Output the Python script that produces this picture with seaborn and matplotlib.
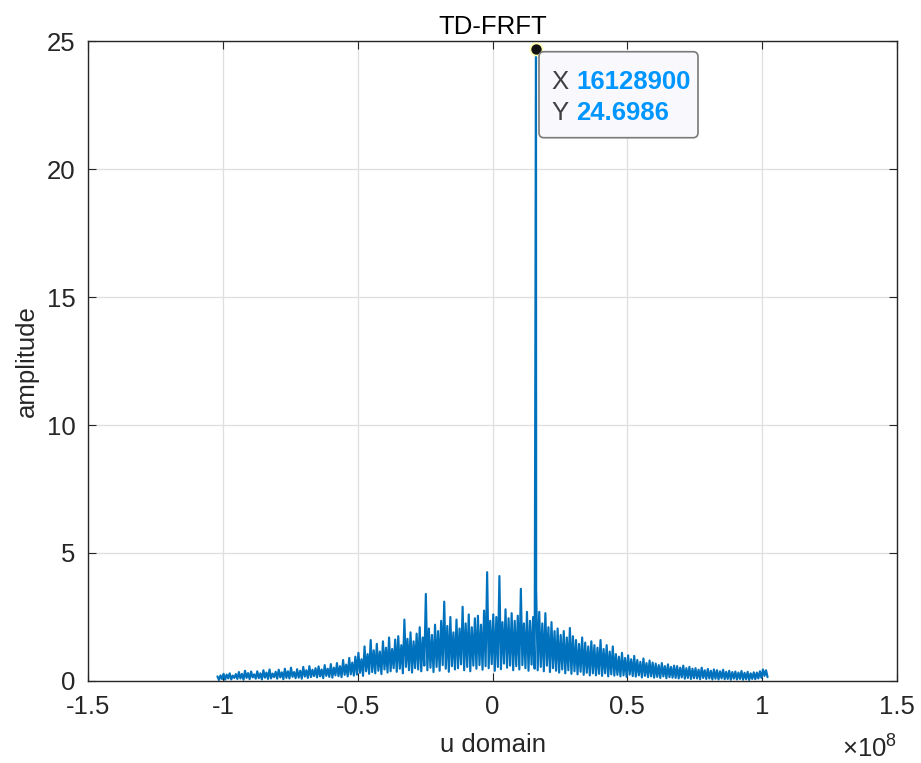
import numpy as np
import pandas as pd
import matplotlib
matplotlib.use("Agg")
import matplotlib.pyplot as plt
import seaborn as sns
from matplotlib.patches import FancyBboxPatch
from matplotlib.transforms import IdentityTransform

# ---- data -------------------------------------------------------------
u_start, u_end = -1.02e8, 1.02e8

amplitude = [
    0.18, 0.04, 0.22, 0.08, 0.28, 0.05, 0.25, 0.10, 0.30, 0.06, 0.21, 0.12, 0.27,
    0.08, 0.35, 0.10, 0.28, 0.05, 0.40, 0.12, 0.31, 0.07, 0.37, 0.14, 0.26, 0.09,
    0.38, 0.11, 0.30, 0.06, 0.42, 0.13, 0.33, 0.08, 0.45, 0.10, 0.29, 0.15, 0.36,
    0.09, 0.44, 0.14, 0.34, 0.07, 0.48, 0.12, 0.38, 0.10, 0.52, 0.16, 0.35, 0.11,
    0.46, 0.13, 0.40, 0.09, 0.55, 0.17, 0.42, 0.12, 0.58, 0.15, 0.44, 0.19, 0.50,
    0.14, 0.57, 0.18, 0.45, 0.11, 0.62, 0.20, 0.48, 0.16, 0.66, 0.13, 0.52, 0.22,
    0.70, 0.19, 0.58, 0.15, 0.82, 0.24, 0.64, 0.18, 0.90, 0.26, 0.72, 0.21, 0.95,
    0.25, 1.10, 0.32, 0.85, 0.20, 1.35, 0.38, 1.05, 0.28, 1.60, 0.35, 1.20, 0.30,
    1.45, 0.40, 1.15, 0.27, 1.55, 0.45, 1.30, 0.33, 1.70, 0.38, 1.25, 0.50, 1.62,
    0.36, 1.75, 0.48, 1.40, 0.30, 2.40, 0.55, 1.65, 0.42, 1.90, 0.33, 1.55, 0.50,
    1.85, 0.45, 2.10, 0.38, 1.70, 0.60, 3.40, 0.42, 2.05, 0.52, 1.80, 0.35, 2.20,
    0.55, 1.95, 0.40, 2.35, 0.62, 3.10, 0.48, 2.15, 0.36, 2.50, 0.58, 1.90, 0.45,
    2.40, 0.50, 2.05, 0.65, 2.90, 0.42, 2.25, 0.55, 2.60, 0.38, 2.10, 0.60, 2.45,
    0.48, 2.55, 0.62, 2.20, 0.44, 2.75, 0.58, 4.25, 0.50, 2.35, 0.66, 2.60, 0.40,
    2.50, 0.55, 4.10, 0.46, 2.30, 0.68, 2.80, 0.52, 2.45, 0.60, 2.65, 0.42, 2.35,
    0.58, 2.55, 0.45, 3.60, 0.62, 2.25, 0.50, 2.70, 0.40, 2.35, 0.64, 2.50, 0.48,
    3.55, 0.42, 2.70, 0.55, 2.25, 0.38, 2.65, 0.60, 2.10, 0.35, 2.30, 0.50, 1.95,
    0.40, 2.05, 0.33, 1.80, 0.45, 1.95, 0.30, 1.70, 0.42, 2.07, 0.28, 1.75, 0.38,
    1.60, 0.26, 1.45, 0.36, 1.70, 0.24, 1.50, 0.32, 1.35, 0.22, 1.55, 0.30, 1.40,
    0.22, 1.30, 0.28, 1.60, 0.20, 1.25, 0.30, 1.40, 0.18, 1.15, 0.26, 1.35, 0.21,
    1.05, 0.24, 0.95, 0.18, 1.10, 0.22, 0.90, 0.16, 1.00, 0.25, 0.85, 0.19, 0.98,
    0.17, 0.82, 0.22, 0.75, 0.14, 0.88, 0.20, 0.70, 0.15, 0.80, 0.18, 0.72, 0.13,
    0.68, 0.16, 0.62, 0.12, 0.70, 0.18, 0.58, 0.11, 0.65, 0.15, 0.55, 0.13, 0.60,
    0.12, 0.58, 0.10, 0.52, 0.14, 0.60, 0.09, 0.50, 0.12, 0.55, 0.08, 0.48, 0.11,
    0.50, 0.10, 0.44, 0.07, 0.52, 0.12, 0.42, 0.08, 0.47, 0.10, 0.40, 0.06, 0.45,
    0.09, 0.42, 0.06, 0.38, 0.10, 0.44, 0.07, 0.36, 0.08, 0.40, 0.05, 0.35, 0.09,
    0.37, 0.06, 0.33, 0.08, 0.39, 0.05, 0.32, 0.07, 0.36, 0.04, 0.30, 0.08, 0.34,
    0.07, 0.33, 0.10, 0.38, 0.12, 0.45, 0.20, 0.42, 0.15,
]

peak_u = 16128900
peak_amp = 24.6986

x_ticks = [-1.5e8, -1.0e8, -0.5e8, 0.0, 0.5e8, 1.0e8, 1.5e8]
x_tick_labels = ["-1.5", "-1", "-0.5", "0", "0.5", "1", "1.5"]
y_ticks = [0, 5, 10, 15, 20, 25]
y_tick_labels = ["0", "5", "10", "15", "20", "25"]

# sample grid of the transform output, with the detected peak sample merged in
u = np.linspace(u_start, u_end, len(amplitude))
amp = np.asarray(amplitude, dtype=float)
k = np.searchsorted(u, peak_u)
u = np.insert(u, k, peak_u)
amp = np.insert(amp, k, peak_amp)
df = pd.DataFrame({"u": u, "amplitude": amp})

# ---- style --------------------------------------------------------------
sns.set_theme(style="whitegrid")
plt.rcParams["font.family"] = ["Liberation Sans", "DejaVu Sans"]
plt.rcParams["mathtext.fontset"] = "custom"
plt.rcParams["mathtext.rm"] = "Liberation Sans"
plt.rcParams["axes.unicode_minus"] = False

TXT = "#262626"
FS = 18.5

fig = plt.figure(figsize=(9.21, 7.63), dpi=100)
fig.patch.set_facecolor("white")
ax = fig.add_axes([88 / 921, 82 / 763, 809 / 921, 640 / 763])
ax.set_facecolor("white")

sns.lineplot(data=df, x="u", y="amplitude", ax=ax, color="#0072BD",
             linewidth=1.55, sort=False, estimator=None)

ax.set_xlim(-1.5e8, 1.5e8)
ax.set_ylim(0, 25)
ax.set_xticks(x_ticks)
ax.set_xticklabels(x_tick_labels)
ax.set_yticks(y_ticks)
ax.set_yticklabels(y_tick_labels)

ax.grid(True, color="#dfdfdf", linewidth=0.9)
ax.set_axisbelow(True)
for s in ax.spines.values():
    s.set_visible(True)
    s.set_color(TXT)
    s.set_linewidth(1.0)

ax.tick_params(axis="both", which="both", direction="in", length=6, width=0.8,
               color=TXT, labelcolor=TXT, labelsize=FS,
               top=True, right=True, bottom=True, left=True)
ax.tick_params(axis="x", pad=10)
ax.tick_params(axis="y", pad=9)

ax.set_title("TD-FRFT", fontsize=FS, color="black", pad=5)
ax.set_xlabel("u domain", fontsize=FS, color=TXT, labelpad=10)
ax.set_ylabel("amplitude", fontsize=FS, color=TXT, labelpad=6)

ax.text(1.0, -0.127, r"$\mathregular{\times10^{8}}$", transform=ax.transAxes,
        ha="right", va="bottom", fontsize=FS, color=TXT)

# ---- data tip on the peak ----------------------------------------------
ax.scatter([peak_u], [peak_amp], s=75, color="#111111", edgecolor="#ffffb0",
           linewidth=1.2, zorder=6, clip_on=False)

fig.canvas.draw()
px, py = ax.transData.transform((peak_u, peak_amp))
box = FancyBboxPatch((px + 3, py - 89), 159, 86,
                     boxstyle="round,pad=0,rounding_size=5",
                     transform=IdentityTransform(), facecolor="#f8f8fd",
                     edgecolor="#7a7a7a", linewidth=1.2, zorder=7,
                     clip_on=False)
fig.add_artist(box)

tip_rows = [("X", f"{peak_u}"), ("Y", f"{peak_amp:.4f}")]
for i, (lab, val) in enumerate(tip_rows):
    yy = py - 33 - 31 * i
    fig.text(px + 15, yy, lab, transform=IdentityTransform(), ha="left",
             va="center", fontsize=FS, color="#404040", zorder=8)
    fig.text(px + 40, yy, val, transform=IdentityTransform(), ha="left",
             va="center", fontsize=FS, color="#0096FF", fontweight="bold",
             zorder=8)

fig.savefig("out.png", dpi=100, facecolor="white")
